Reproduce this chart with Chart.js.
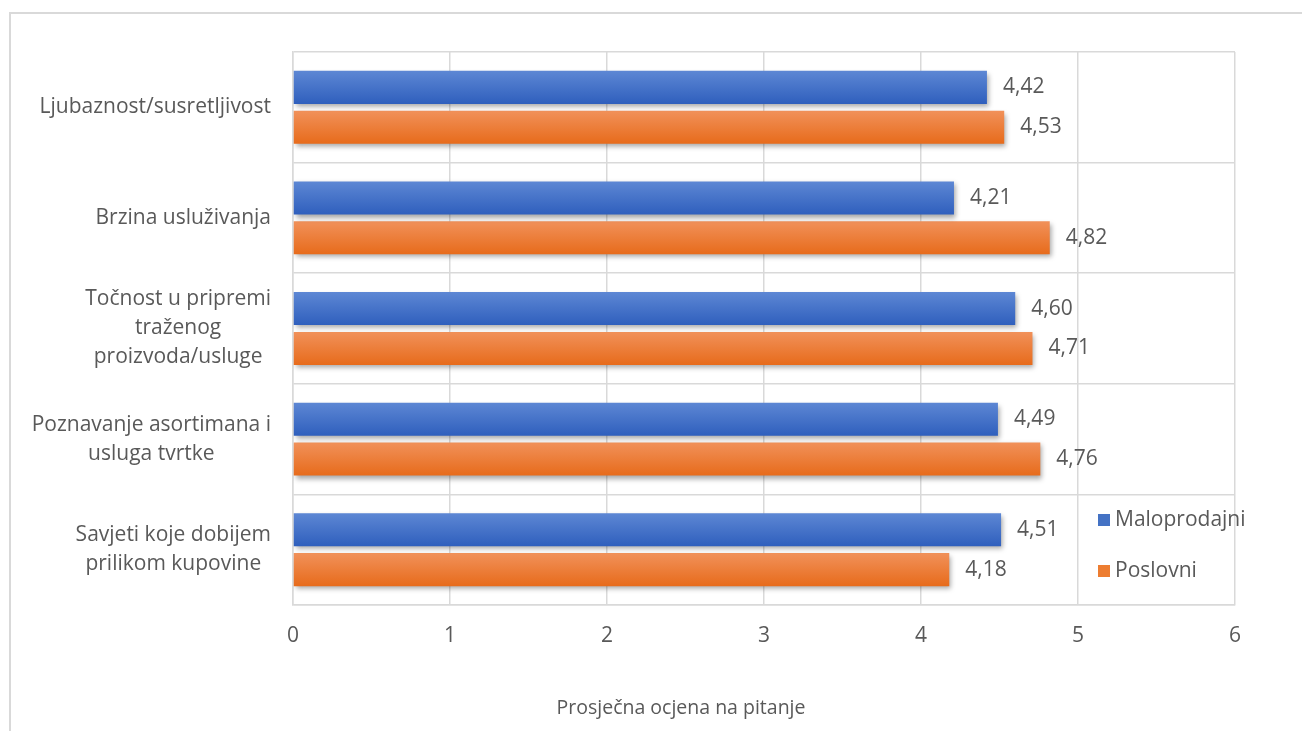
<!DOCTYPE html>
<html>
<head>
<meta charset="utf-8">
<title>Prosječna ocjena na pitanje</title>
<script src="https://cdn.jsdelivr.net/npm/chart.js@4/dist/chart.umd.min.js"></script>
<style>
  html, body { margin: 0; padding: 0; background: #fff; }
  #wrap { width: 1302px; height: 731px; position: relative; }
</style>
</head>
<body>
<div id="wrap"><canvas id="chart" width="1302" height="731"></canvas></div>
<script>
// ─── Data ─────────────────────────────────────────────
const categories = [
  ['Ljubaznost/susretljivost'],
  ['Brzina usluživanja'],
  ['Točnost u pripremi', 'traženog', 'proizvoda/usluge'],
  ['Poznavanje asortimana i', 'usluga tvrtke'],
  ['Savjeti koje dobijem', 'prilikom kupovine']
];
const maloprodajni = [4.42, 4.21, 4.60, 4.49, 4.51];
const poslovni     = [4.53, 4.82, 4.71, 4.76, 4.18];
const seriesNames  = ['Maloprodajni', 'Poslovni'];
const xTicks       = [0, 1, 2, 3, 4, 5, 6];
const axisTitle    = 'Prosječna ocjena na pitanje';

const FONT = '"Open Sans", Lato, sans-serif';
const TEXT = '#595959';
const GRID = '#d9d9d9';
const colors = [
  { top: '#5d87d4', bottom: '#2f5fbd', flat: '#4472c4' },
  { top: '#f1915a', bottom: '#e76b1b', flat: '#ed7d31' }
];

const fmt = v => v.toFixed(2).replace('.', ',');

// ─── Plugins ──────────────────────────────────────────
const frame = {
  id: 'frame',
  beforeDraw(chart) {
    const c = chart.ctx;
    c.save();
    c.strokeStyle = GRID;
    c.lineWidth = 2;
    c.beginPath();
    c.moveTo(10, 740);
    c.lineTo(10, 13);
    c.lineTo(1310, 13);
    c.stroke();
    c.restore();
  }
};

const barStyle = {
  id: 'barStyle',
  beforeDatasetsDraw(chart) {
    const c = chart.ctx;
    chart.data.datasets.forEach((ds, i) => {
      chart.getDatasetMeta(i).data.forEach(bar => {
        const h = bar.height / 2;
        const g = c.createLinearGradient(0, bar.y - h, 0, bar.y + h);
        g.addColorStop(0, colors[i].top);
        g.addColorStop(1, colors[i].bottom);
        bar.options.backgroundColor = g;
      });
    });
    c.save();
    c.shadowColor = 'rgba(0,0,0,0.35)';
    c.shadowBlur = 5;
    c.shadowOffsetX = 2;
    c.shadowOffsetY = 3;
  },
  afterDatasetsDraw(chart) {
    const c = chart.ctx;
    c.restore();
    c.save();
    c.font = '21px ' + FONT;
    c.fillStyle = TEXT;
    c.textBaseline = 'middle';
    c.textAlign = 'left';
    chart.data.datasets.forEach((ds, i) => {
      chart.getDatasetMeta(i).data.forEach((bar, j) => {
        c.fillText(fmt(ds.data[j]), bar.x + 16, bar.y);
      });
    });
    c.restore();
  }
};

const catLabels = {
  id: 'catLabels',
  afterDraw(chart) {
    const c = chart.ctx;
    const y = chart.scales.y;
    const lh = 29;
    c.save();
    c.font = '21px ' + FONT;
    c.fillStyle = TEXT;
    c.textAlign = 'center';
    c.textBaseline = 'middle';
    categories.forEach((lines, i) => {
      const cy = y.getPixelForTick(i);
      const w = Math.max(...lines.map(l => c.measureText(l).width));
      const cx = chart.chartArea.left - 22 - w / 2;
      lines.forEach((l, k) => {
        c.fillText(l, cx, cy + (k - (lines.length - 1) / 2) * lh);
      });
    });
    // axis title
    c.font = '19.5px ' + FONT;
    c.fillText(axisTitle, 681, 708);
    c.restore();
  }
};

const legendBox = {
  id: 'legendBox',
  afterDraw(chart) {
    const c = chart.ctx;
    const a = chart.chartArea;
    c.save();
    c.font = '21px ' + FONT;
    c.textBaseline = 'middle';
    seriesNames.forEach((name, i) => {
      const x = a.right - 137;
      const y = a.bottom - 85 + i * 51;
      c.fillStyle = colors[i].flat;
      c.fillRect(x, y - 6, 12, 12);
      c.fillStyle = TEXT;
      c.fillText(name, x + 17, y);
    });
    c.restore();
  }
};

// ─── Chart ────────────────────────────────────────────
new Chart(document.getElementById('chart'), {
  type: 'bar',
  data: {
    labels: categories,
    datasets: [
      { label: seriesNames[0], data: maloprodajni, backgroundColor: () => colors[0].flat },
      { label: seriesNames[1], data: poslovni, backgroundColor: () => colors[1].flat }
    ]
  },
  options: {
    indexAxis: 'y',
    responsive: false,
    animation: false,
    devicePixelRatio: 1,
    layout: { padding: { top: 52, right: 67, bottom: 0, left: 0 } },
    datasets: { bar: { categoryPercentage: 0.72, barPercentage: 0.83 } },
    plugins: { legend: { display: false }, tooltip: { enabled: false } },
    scales: {
      x: {
        min: 0, max: 6,
        afterBuildTicks: s => { s.ticks = xTicks.map(v => ({ value: v })); },
        grid: { color: GRID, lineWidth: 1.5, drawTicks: false },
        border: { color: GRID, width: 1.5 },
        ticks: { color: TEXT, font: { family: FONT, size: 21 }, padding: 18 },
        afterFit: s => { s.height = 126; }
      },
      y: {
        grid: { color: GRID, lineWidth: 1.5, drawTicks: false, offset: true },
        border: { color: GRID, width: 1.5 },
        ticks: { display: false },
        afterFit: s => { s.width = 293; }
      }
    }
  },
  plugins: [frame, barStyle, catLabels, legendBox]
});
</script>
</body>
</html>
